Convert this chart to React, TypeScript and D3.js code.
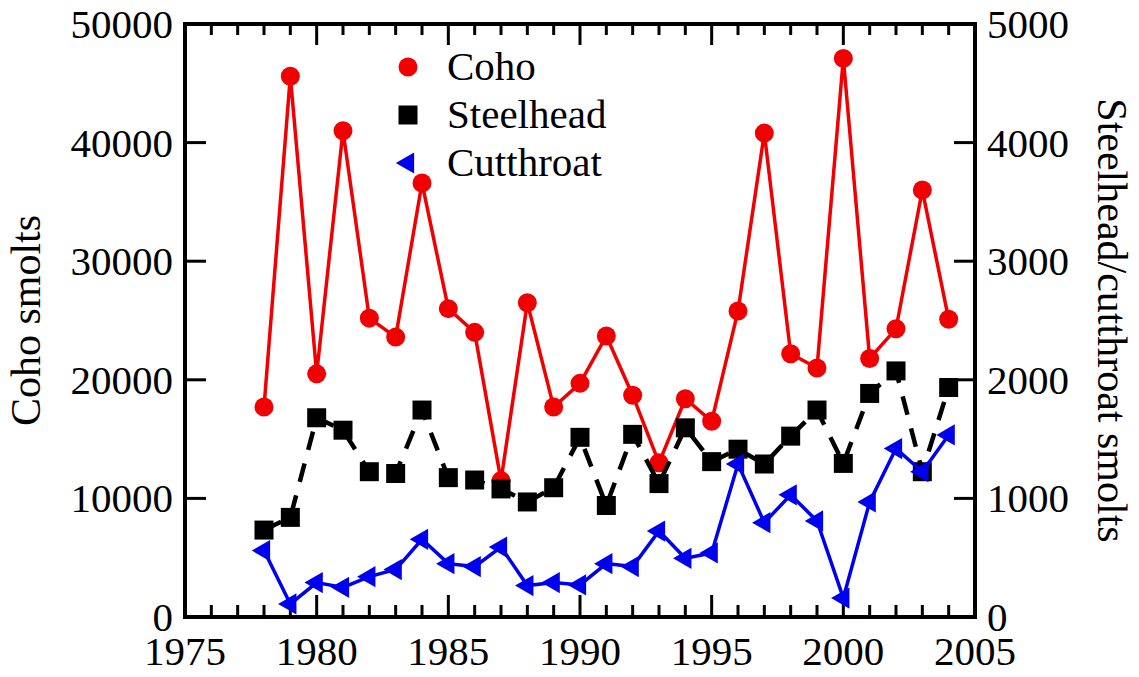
import React, { useEffect, useRef } from "react";
import * as d3 from "d3";

const years = [
  1978, 1979, 1980, 1981, 1982, 1983, 1984, 1985, 1986, 1987, 1988, 1989, 1990,
  1991, 1992, 1993, 1994, 1995, 1996, 1997, 1998, 1999, 2000, 2001, 2002, 2003, 2004,
];

// coho smolts (left axis)
const coho = [
  17700, 45600, 20500, 41000, 25200, 23600, 36600, 26000, 24000, 11500, 26500,
  17700, 19700, 23700, 18700, 13000, 18400, 16500, 25800, 40800, 22200, 21000,
  47100, 21800, 24300, 36000, 25100,
];

// steelhead + cutthroat (right axis)
const steelhead = [
  733, 840, 1680, 1575, 1225, 1210, 1745, 1175, 1155, 1080, 970, 1090, 1515,
  940, 1540, 1125, 1595, 1310, 1415, 1290, 1525, 1745, 1295, 1885, 2075, 1225, 1935,
];

const cutthroat = [
  560, 110, 290, 250, 340, 400, 655, 450, 425, 590, 265, 290, 270, 450, 425, 725,
  495, 540, 1290, 795, 1030, 810, 160, 970, 1420, 1225, 1535,
];

const xTicks = [1975, 1980, 1985, 1990, 1995, 2000, 2005];
const yLeftTicks = [0, 10000, 20000, 30000, 40000, 50000];
const yRightTicks = [0, 1000, 2000, 3000, 4000, 5000];

const legendItems = ["Coho", "Steelhead", "Cutthroat"];

const RED = "#f00000";
const BLUE = "#0000f0";
const FONT = "'Liberation Serif', 'Times New Roman', serif";

const App = () => {
  const ref = useRef<SVGSVGElement>(null);

  useEffect(() => {
    if (!ref.current) return;
    const svg = d3.select(ref.current);
    svg.selectAll("*").remove();

    const W = 1139;
    const H = 677;
    const margin = { top: 24, right: 164, bottom: 60, left: 185 };
    const x0 = margin.left;
    const x1 = W - margin.right;
    const y0 = H - margin.bottom;
    const y1 = margin.top;

    const x = d3.scaleLinear().domain([1975, 2005]).range([x0, x1]);
    const yL = d3.scaleLinear().domain([0, 50000]).range([y0, y1]);
    const yR = d3.scaleLinear().domain([0, 5000]).range([y0, y1]);

    const g = svg.append("g");

    // ===== ticks =====
    const minorYears = d3.range(1976, 2005).filter(d => d % 5 !== 0);
    const tickG = g.append("g").attr("stroke", "#000").attr("stroke-width", 3);

    xTicks.slice(1, -1).forEach(d => {
      tickG.append("line").attr("x1", x(d)).attr("x2", x(d)).attr("y1", y0).attr("y2", y0 - 22);
      tickG.append("line").attr("x1", x(d)).attr("x2", x(d)).attr("y1", y1).attr("y2", y1 + 21);
    });
    minorYears.forEach(d => {
      tickG.append("line").attr("x1", x(d)).attr("x2", x(d)).attr("y1", y0).attr("y2", y0 - 12);
      tickG.append("line").attr("x1", x(d)).attr("x2", x(d)).attr("y1", y1).attr("y2", y1 + 11);
    });
    yLeftTicks.slice(1, -1).forEach(d => {
      tickG.append("line").attr("x1", x0).attr("x2", x0 + 21).attr("y1", yL(d)).attr("y2", yL(d));
    });
    yRightTicks.slice(1, -1).forEach(d => {
      tickG.append("line").attr("x1", x1).attr("x2", x1 - 21).attr("y1", yR(d)).attr("y2", yR(d));
    });

    // frame
    g.append("rect")
      .attr("x", x0)
      .attr("y", y1)
      .attr("width", x1 - x0)
      .attr("height", y0 - y1)
      .attr("fill", "none")
      .attr("stroke", "#000")
      .attr("stroke-width", 4);

    // ===== tick labels =====
    const labelG = g.append("g").style("font-family", FONT).style("font-size", "41px").attr("fill", "#000");
    xTicks.forEach(d => {
      labelG.append("text").attr("x", x(d)).attr("y", y0 + 48).attr("text-anchor", "middle").text(d);
    });
    yLeftTicks.forEach(d => {
      labelG.append("text").attr("x", x0 - 12).attr("y", yL(d) + 14).attr("text-anchor", "end").text(d);
    });
    yRightTicks.forEach(d => {
      labelG.append("text").attr("x", x1 + 12).attr("y", yR(d) + 14).attr("text-anchor", "start").text(d);
    });

    // axis titles
    const midY = (y0 + y1) / 2;
    labelG.append("text")
      .attr("transform", `translate(40,${midY}) rotate(-90)`)
      .attr("text-anchor", "middle")
      .style("font-size", "42px")
      .text("Coho smolts");
    labelG.append("text")
      .attr("transform", `translate(1098,${midY}) rotate(90)`)
      .attr("text-anchor", "middle")
      .style("font-size", "42px")
      .text("Steelhead/cutthroat smolts");

    const lineL = d3.line<number>().x((_, i) => x(years[i])).y(d => yL(d));
    const lineR = d3.line<number>().x((_, i) => x(years[i])).y(d => yR(d));

    // ===== Coho =====
    g.append("path").datum(coho).attr("fill", "none").attr("stroke", RED).attr("stroke-width", 3.5).attr("d", lineL);
    g.append("g").selectAll("circle").data(coho).join("circle")
      .attr("cx", (_, i) => x(years[i]))
      .attr("cy", d => yL(d))
      .attr("r", 9.5)
      .attr("fill", RED);

    // ===== Steelhead =====
    g.append("path").datum(steelhead).attr("fill", "none").attr("stroke", "#000")
      .attr("stroke-width", 4.5).attr("stroke-dasharray", "19,14").attr("d", lineR);
    const square = d3.symbol(d3.symbolSquare, 19 * 19);
    g.append("g").selectAll("path").data(steelhead).join("path")
      .attr("transform", (d, i) => `translate(${x(years[i])},${yR(d)})`)
      .attr("d", square())
      .attr("fill", "#000");

    // ===== Cutthroat =====
    g.append("path").datum(cutthroat).attr("fill", "none").attr("stroke", BLUE).attr("stroke-width", 3.5).attr("d", lineR);
    const tri = d3.symbol(d3.symbolTriangle, 195);
    g.append("g").selectAll("path").data(cutthroat).join("path")
      .attr("transform", (d, i) => `translate(${x(years[i])},${yR(d)}) rotate(-90)`)
      .attr("d", tri())
      .attr("fill", BLUE);

    // ===== Legend =====
    const leg = g.append("g").style("font-family", FONT).style("font-size", "41px");
    legendItems.forEach((name, i) => {
      const cy = 67 + i * 48;
      const mx = 408;
      if (i === 0) leg.append("circle").attr("cx", mx).attr("cy", cy).attr("r", 9.5).attr("fill", RED);
      if (i === 1) leg.append("path").attr("transform", `translate(${mx},${cy})`).attr("d", square()).attr("fill", "#000");
      if (i === 2) leg.append("path").attr("transform", `translate(${mx},${cy}) rotate(-90)`).attr("d", tri()).attr("fill", BLUE);
      leg.append("text").attr("x", 447).attr("y", cy + 13).text(name);
    });
  }, []);

  return (
    <div style={{ position: "absolute", left: 0, top: 0 }}>
      <svg ref={ref} width={1139} height={677} style={{ display: "block", background: "#fff" }} />
    </div>
  );
};

export default App;
